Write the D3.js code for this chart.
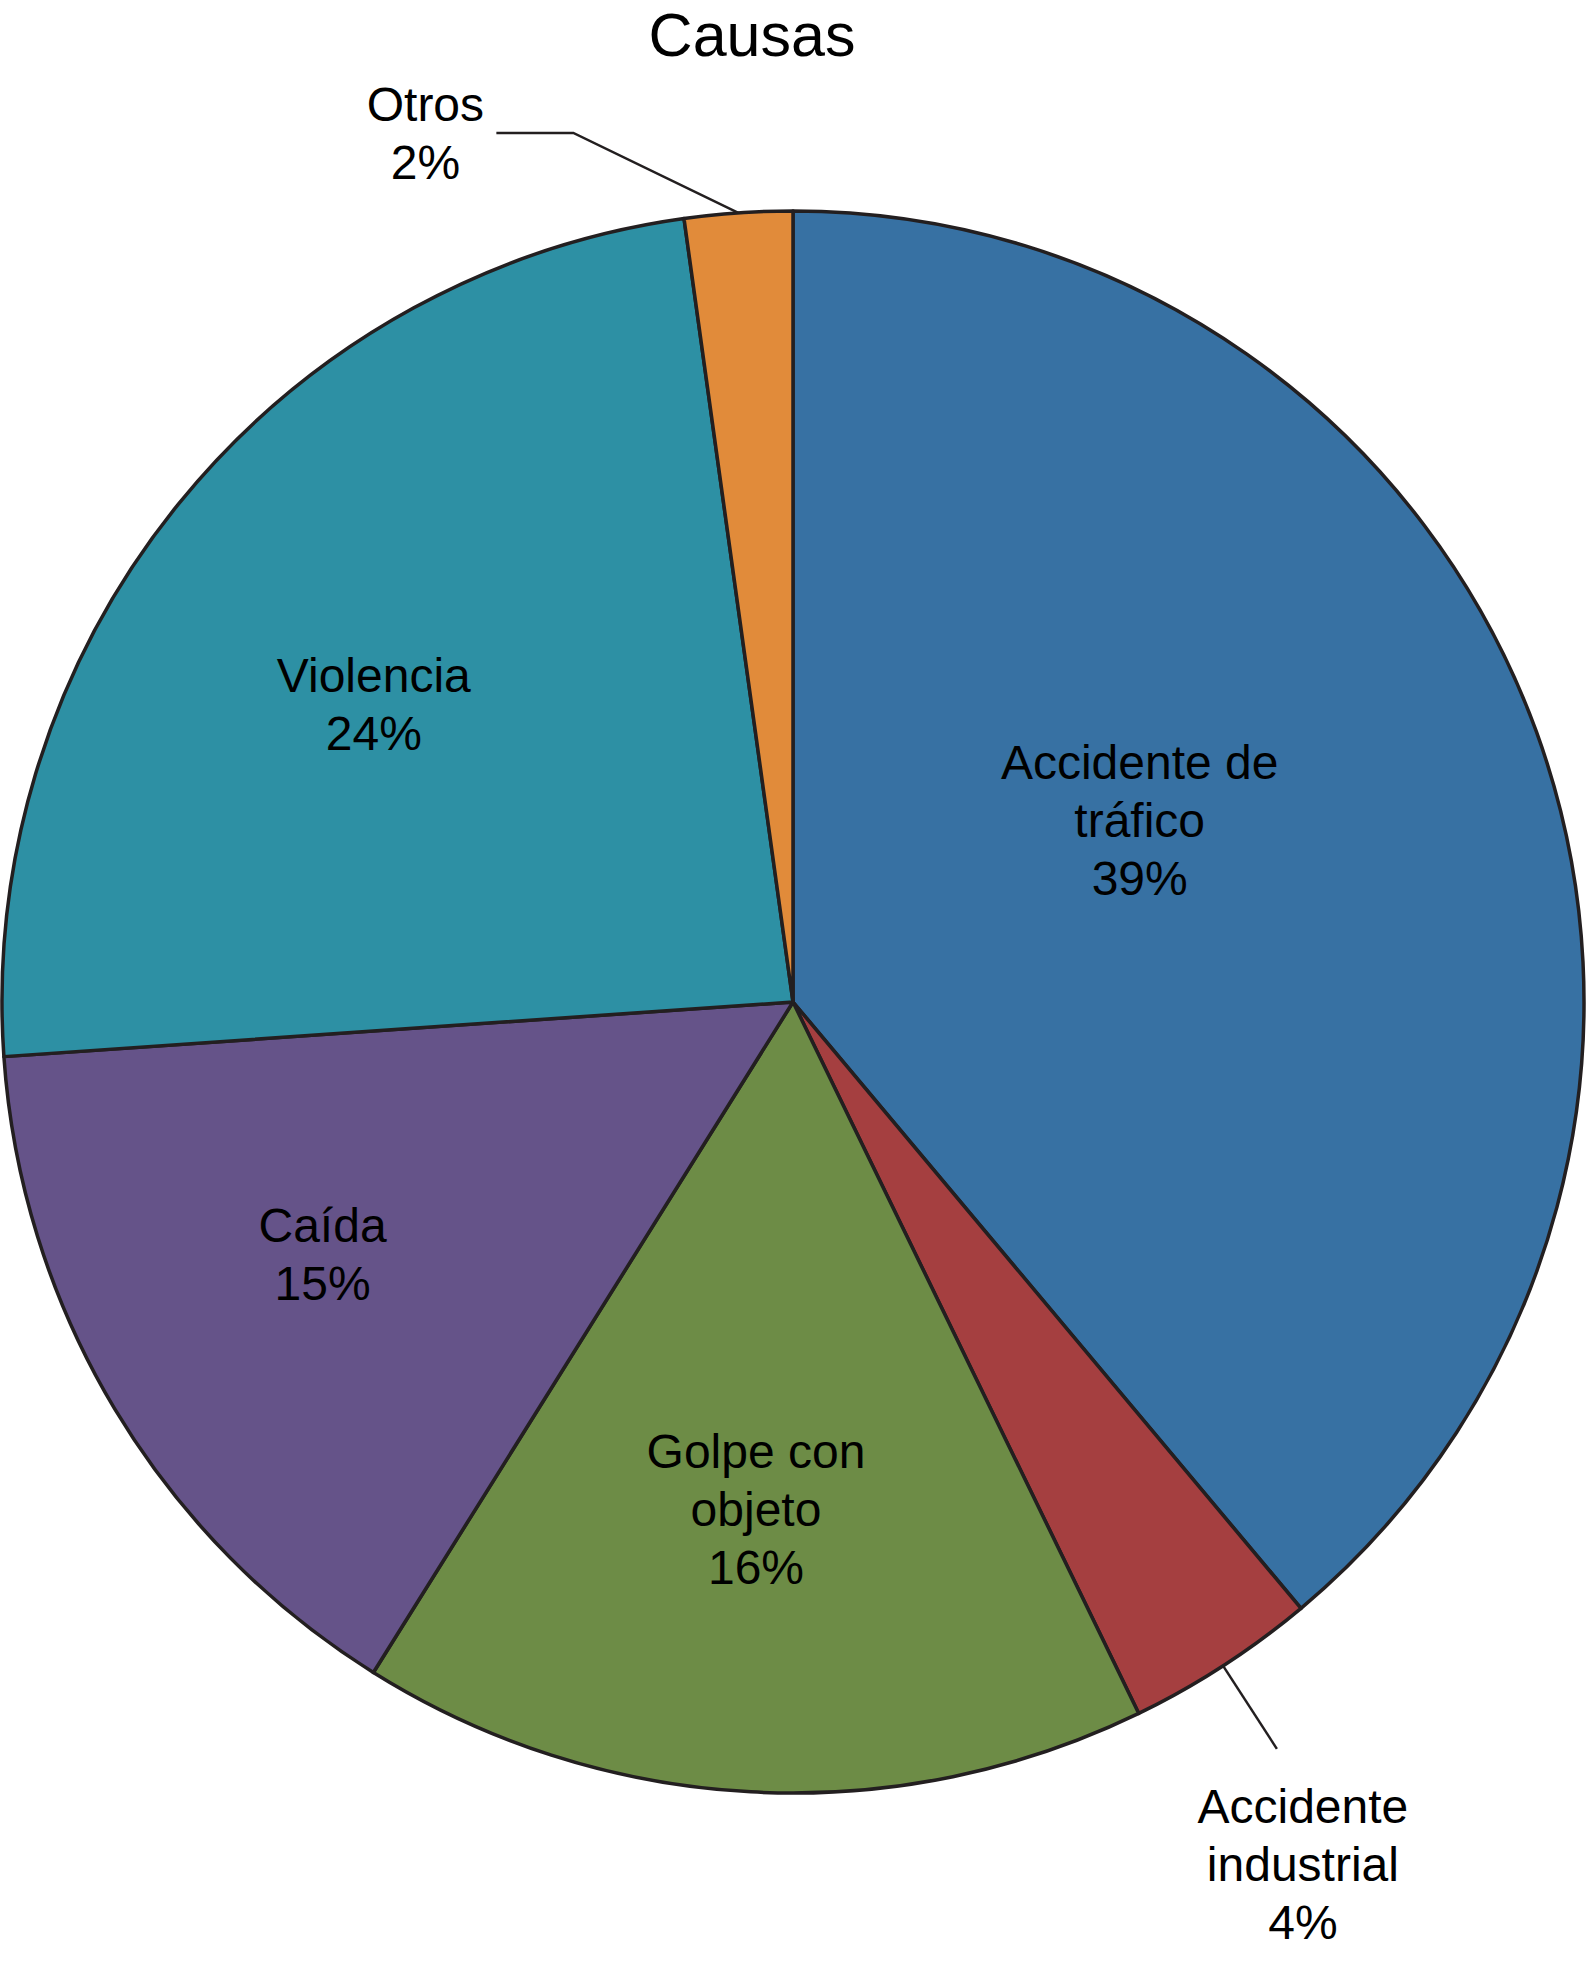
<!DOCTYPE html>
<html>
<head>
<meta charset="utf-8">
<script src="https://cdn.jsdelivr.net/npm/d3@7"></script>
<style>
  body { margin: 0; background: #fff; }
  text { font-family: "Liberation Sans", Arial, Helvetica, sans-serif; fill: #000; }
</style>
</head>
<body>
<div id="chart"></div>
<script>
const categories = ['Accidente de\ntráfico', 'Accidente\nindustrial', 'Golpe con\nobjeto', 'Caída', 'Violencia', 'Otros'];
const values = [38.9, 3.9, 16.1, 15.0, 23.9, 2.2];
const colors = ['#3771A3', '#A53F40', '#6D8C46', '#655389', '#2D90A4', '#E18B3A'];

// label placement: inside labels sit on the centroid at radius fraction r, nudged a bit
const labelLayout = [
    { r: 0.5, dx: -25, dy: -47 },
    { outside: 'radial' },
    { r: 0.64, dx: -10, dy: 1 },
    { r: 0.67, dx: -16, dy: -21 },
    { r: 0.65, dx: -20, dy: 26 },
    { outside: 'elbow' }
];

const width = 1587;
const height = 1966;
const cx = 793, cy = 1002;
const radius = 791;
const fontSize = 48;
const lineH = 58;

const svg = d3.select('#chart')
    .append('svg')
    .attr('width', width)
    .attr('height', height);

svg.append('text')
    .attr('x', 752)
    .attr('y', 56)
    .attr('text-anchor', 'middle')
    .style('font-size', '61px')
    .text('Causas');

const g = svg.append('g')
    .attr('transform', `translate(${cx}, ${cy})`);

const pie = d3.pie()
    .value(d => d)
    .sort(null);

const data_ready = pie(values);
const total = d3.sum(values);

const arc = d3.arc()
    .innerRadius(0)
    .outerRadius(radius);

g.selectAll('path')
    .data(data_ready)
    .enter()
    .append('path')
    .attr('d', arc)
    .attr('fill', (d, i) => colors[i])
    .attr('stroke', '#231F20')
    .attr('stroke-width', 3.5)
    .attr('stroke-linejoin', 'round');

function textBlock(lines, x, yCenter, anchor) {
    const t = g.append('text')
        .attr('text-anchor', anchor || 'middle')
        .style('font-size', fontSize + 'px');
    const first = yCenter - (lines.length - 1) * lineH / 2 + fontSize * 0.36;
    lines.forEach((ln, i) => {
        t.append('tspan')
            .attr('x', x)
            .attr('y', first + i * lineH)
            .text(ln);
    });
}

data_ready.forEach((d, i) => {
    const lines = categories[i].split('\n');
    lines.push(Math.round(d.data / total * 100) + '%');
    const lay = labelLayout[i];
    const mid = (d.startAngle + d.endAngle) / 2;
    const px = r => Math.sin(mid) * r;
    const py = r => -Math.cos(mid) * r;

    if (!lay.outside) {
        const x = px(radius * lay.r) + lay.dx;
        const y = py(radius * lay.r) + lay.dy;
        textBlock(lines, x, y);
    } else if (lay.outside === 'radial') {
        const x0 = px(radius), y0 = py(radius);
        const x1 = px(radius * 1.125), y1 = py(radius * 1.125);
        g.append('path')
            .attr('d', d3.line()([[x0, y0], [x1, y1]]))
            .attr('fill', 'none')
            .attr('stroke', '#231F20')
            .attr('stroke-width', 2.5);
        textBlock(lines, x1 + 26, y1 + 74 + lineH - fontSize * 0.36);
    } else {
        const x0 = px(radius), y0 = py(radius);
        const elbow = [x0 - 165, y0 - 80];
        const end = [elbow[0] - 77, elbow[1]];
        g.append('path')
            .attr('d', d3.line()([[x0, y0], elbow, end]))
            .attr('fill', 'none')
            .attr('stroke', '#231F20')
            .attr('stroke-width', 2.5);
        textBlock(lines, end[0] - 71, end[1]);
    }
});
</script>
</body>
</html>
